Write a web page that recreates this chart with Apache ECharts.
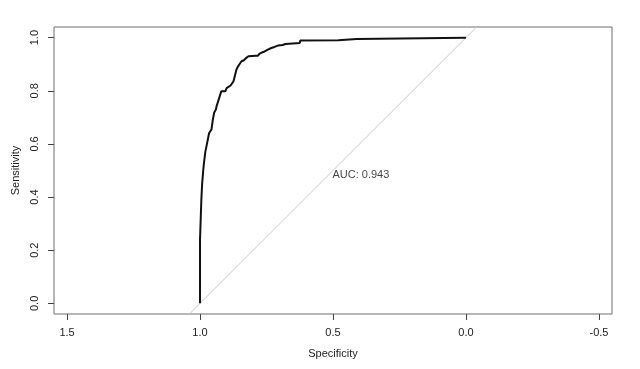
<!DOCTYPE html>
<html>
<head>
<meta charset="utf-8">
<script src="https://cdn.jsdelivr.net/npm/echarts@6/dist/echarts.min.js"></script>
<style>html,body{margin:0;padding:0;background:#fff}#c{width:640px;height:369px}</style>
</head>
<body>
<div id="c"></div>
<script>
var specificity = [1.0, 1.0, 0.998, 0.997, 0.995, 0.992, 0.988, 0.985, 0.980, 0.976, 0.970, 0.966, 0.960, 0.957, 0.952, 0.947, 0.940, 0.938, 0.932, 0.926, 0.920, 0.905, 0.900, 0.895, 0.885, 0.878, 0.874, 0.868, 0.863, 0.858, 0.853, 0.848, 0.844, 0.835, 0.826, 0.818, 0.790, 0.782, 0.776, 0.765, 0.757, 0.745, 0.732, 0.720, 0.707, 0.690, 0.678, 0.625, 0.623, 0.480, 0.478, 0.411, 0.409, 0.0];
var sensitivity = [0.0, 0.24, 0.24, 0.33, 0.39, 0.45, 0.50, 0.53, 0.57, 0.59, 0.62, 0.64, 0.645, 0.654, 0.69, 0.717, 0.73, 0.741, 0.76, 0.779, 0.798, 0.798, 0.81, 0.817, 0.82, 0.823, 0.836, 0.84, 0.88, 0.89, 0.898, 0.905, 0.911, 0.915, 0.924, 0.93, 0.932, 0.932, 0.94, 0.945, 0.948, 0.955, 0.961, 0.965, 0.97, 0.972, 0.976, 0.98, 0.989, 0.99, 0.995, 0.995, 1.0, 1.0];
var diagonalSpec = [1.04, -0.04];
var diagonalSens = [-0.04, 1.04];
var xTickValues = [1.5, 1.0, 0.5, 0.0, -0.5];
var yTickValues = [0.0, 0.2, 0.4, 0.6, 0.8, 1.0];
var aucText = 'AUC: 0.943';
var aucPos = [0.502, 0.482];

var rocData = specificity.map(function (s, i) { return [s, sensitivity[i]]; });
var diagData = diagonalSpec.map(function (s, i) { return [s, diagonalSens[i]]; });
var font = 'Liberation Sans, Arial, sans-serif';

var chart = echarts.init(document.getElementById('c'), null, {renderer: 'canvas'});
chart.setOption({
  animation: false,
  backgroundColor: '#fff',
  grid: {left: 54, right: 28, top: 27, bottom: 55, show: true, borderColor: '#6e6e6e', borderWidth: 1, backgroundColor: 'transparent'},
  xAxis: {
    type: 'value', inverse: true, min: -0.549, max: 1.549,
    name: 'Specificity', nameLocation: 'middle', nameGap: 34,
    nameTextStyle: {color: '#222', fontSize: 11, fontFamily: font},
    axisLine: {show: false, onZero: false},
    splitLine: {show: false},
    axisTick: {show: true, length: 6, inside: false, lineStyle: {color: '#444'}, customValues: xTickValues},
    axisLabel: {show: true, color: '#222', fontSize: 11, fontFamily: font, margin: 13, customValues: xTickValues,
      formatter: function (v) { return Number(v).toFixed(1); }}
  },
  yAxis: {
    type: 'value', min: -0.04, max: 1.04,
    name: 'Sensitivity', nameLocation: 'middle', nameGap: 33, nameRotate: 90,
    nameTextStyle: {color: '#222', fontSize: 11, fontFamily: font},
    axisLine: {show: false, onZero: false},
    splitLine: {show: false},
    axisTick: {show: true, length: 6, inside: false, lineStyle: {color: '#444'}, customValues: yTickValues},
    axisLabel: {show: true, color: '#222', fontSize: 11, fontFamily: font, margin: 14, rotate: 90, customValues: yTickValues,
      formatter: function (v) { return Number(v).toFixed(1); }}
  },
  series: [
    {type: 'line', data: diagData, symbol: 'none', lineStyle: {color: '#c8c8c8', width: 1}, clip: true, silent: true, z: 1},
    {type: 'line', data: rocData, symbol: 'none', lineStyle: {color: '#111', width: 2}, clip: true, silent: true, z: 2},
    {type: 'scatter', data: [aucPos], symbolSize: 0, silent: true, z: 3,
      label: {show: true, position: [0, 0], align: 'left', verticalAlign: 'middle', formatter: aucText,
        color: '#111', fontSize: 11, fontFamily: font}}
  ]
});
</script>
</body>
</html>
